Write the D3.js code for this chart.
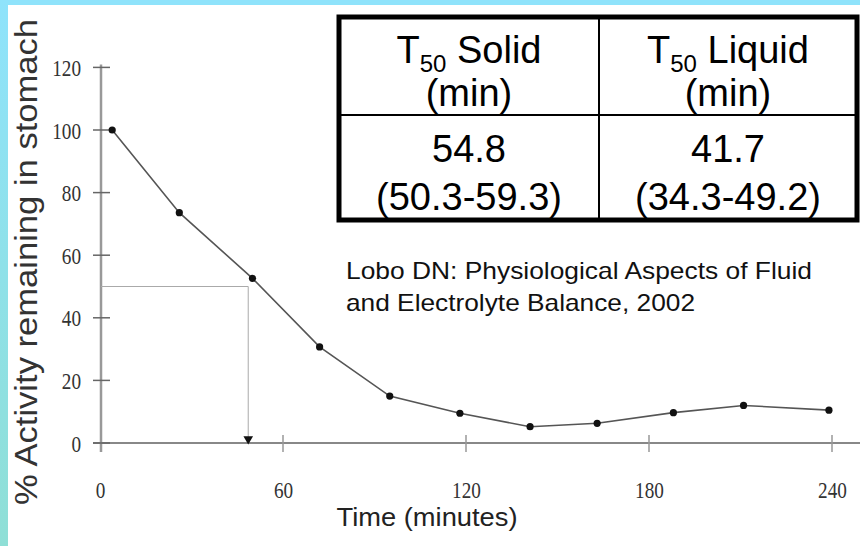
<!DOCTYPE html>
<html>
<head>
<meta charset="utf-8">
<script src="https://cdn.jsdelivr.net/npm/d3@7"></script>
<style>
  html, body { margin: 0; padding: 0; background: #fff; }
  svg { display: block; }
</style>
</head>
<body>
<script>
// gastric emptying - % activity remaining vs time
var times = [4, 26, 50, 72, 95, 118, 141, 163, 188, 211, 239];
var activity = [100, 73.6, 52.6, 30.7, 15, 9.5, 5.2, 6.3, 9.7, 12, 10.5];
var xTicks = [0, 60, 120, 180, 240];
var yTicks = [0, 20, 40, 60, 80, 100, 120];
var t50 = 48.6;

var tableHead = ["Solid", "Liquid"];
var tableT50 = ["54.8", "41.7"];
var tableRange = ["(50.3-59.3)", "(34.3-49.2)"];

var svgWidth = 860;
var svgHeight = 546;

var svg = d3.select("body")
  .append("svg")
  .attr("width", svgWidth)
  .attr("height", svgHeight);

// blue frame on top / left
var defs = svg.append("defs");
var grad = defs.append("linearGradient")
  .attr("id", "frame")
  .attr("x1", 0).attr("y1", 0).attr("x2", 0).attr("y2", 1);
grad.append("stop").attr("offset", "0%").attr("stop-color", "#8fe3fb");
grad.append("stop").attr("offset", "100%").attr("stop-color", "#8fdfd6");

svg.append("rect").attr("x", 0).attr("y", 0).attr("width", svgWidth).attr("height", 5).attr("fill", "#8fe3fb");
svg.append("rect").attr("x", 0).attr("y", 0).attr("width", 8).attr("height", svgHeight).attr("fill", "url(#frame)");

var xScale = d3.scaleLinear().domain([0, 240]).range([100, 832]);
var yScale = d3.scaleLinear().domain([0, 120]).range([443, 67.4]);

// axes (labels only, lines drawn below)
var xAxis = d3.axisBottom(xScale).tickValues(xTicks).tickSize(0).tickFormat(d3.format("d"));
var yAxis = d3.axisLeft(yScale).tickValues(yTicks).tickSize(0);

var gx = svg.append("g").attr("transform", "translate(0,443)").call(xAxis);
gx.select(".domain").remove();
gx.selectAll(".tick text")
  .attr("y", 0)
  .attr("dy", 0)
  .attr("font-family", "Liberation Serif, Times New Roman, serif")
  .attr("font-size", 24)
  .attr("fill", "#333")
  .attr("transform", "translate(0,55) scale(0.8,1)");

var gy = svg.append("g").attr("transform", "translate(100,0)").call(yAxis);
gy.select(".domain").remove();
gy.selectAll(".tick text")
  .attr("x", 0)
  .attr("dy", "0.34em")
  .attr("font-family", "Liberation Serif, Times New Roman, serif")
  .attr("font-size", 24)
  .attr("fill", "#333")
  .attr("transform", "translate(-19,0) scale(0.8,1)");

// axis lines and crossing ticks
svg.append("line")
  .attr("x1", 101).attr("x2", 101)
  .attr("y1", yScale(120) - 3).attr("y2", 452)
  .attr("stroke", "#999").attr("stroke-width", 2.5);
svg.append("line")
  .attr("x1", 93).attr("x2", svgWidth)
  .attr("y1", yScale(0)).attr("y2", yScale(0))
  .attr("stroke", "#888").attr("stroke-width", 2);

svg.selectAll(".ytk")
  .data(yTicks)
  .enter()
  .append("line")
  .attr("class", "ytk")
  .attr("x1", 93).attr("x2", 110)
  .attr("y1", d => yScale(d)).attr("y2", d => yScale(d))
  .attr("stroke", "#666").attr("stroke-width", 1.5);

svg.selectAll(".xtk")
  .data(xTicks.slice(1))
  .enter()
  .append("line")
  .attr("class", "xtk")
  .attr("x1", d => xScale(d)).attr("x2", d => xScale(d))
  .attr("y1", 435).attr("y2", 452)
  .attr("stroke", "#999").attr("stroke-width", 1.5);

// T50 guide lines
svg.append("line")
  .attr("x1", 101).attr("x2", xScale(t50))
  .attr("y1", yScale(50)).attr("y2", yScale(50))
  .attr("stroke", "#aaa").attr("stroke-width", 1);
svg.append("line")
  .attr("x1", xScale(t50)).attr("x2", xScale(t50))
  .attr("y1", yScale(50)).attr("y2", yScale(0) - 6)
  .attr("stroke", "#aaa").attr("stroke-width", 1);
svg.append("path")
  .attr("d", d3.symbol().type(d3.symbolTriangle).size(40))
  .attr("transform", "translate(" + xScale(t50) + "," + (yScale(0) - 4) + ") rotate(180)")
  .attr("fill", "#111");

// data line + points
var line = d3.line()
  .x((d, i) => xScale(times[i]))
  .y(d => yScale(d));

svg.append("path")
  .datum(activity)
  .attr("d", line)
  .attr("fill", "none")
  .attr("stroke", "#555")
  .attr("stroke-width", 1.6);

svg.selectAll(".pt")
  .data(activity)
  .enter()
  .append("circle")
  .attr("class", "pt")
  .attr("cx", (d, i) => xScale(times[i]))
  .attr("cy", d => yScale(d))
  .attr("r", 3.6)
  .attr("fill", "#111");

// axis titles
svg.append("text")
  .attr("transform", "translate(37,262) rotate(-90)")
  .attr("text-anchor", "middle")
  .attr("font-family", "Liberation Sans, Arial, sans-serif")
  .attr("font-size", 32)
  .attr("fill", "#333")
  .attr("textLength", 486)
  .attr("lengthAdjust", "spacingAndGlyphs")
  .text("% Activity remaining in stomach");

svg.append("text")
  .attr("x", 427)
  .attr("y", 526)
  .attr("text-anchor", "middle")
  .attr("font-family", "Liberation Sans, Arial, sans-serif")
  .attr("font-size", 26)
  .attr("fill", "#222")
  .attr("textLength", 181)
  .attr("lengthAdjust", "spacingAndGlyphs")
  .text("Time (minutes)");

// T50 table
var tbl = svg.append("g");
var tx0 = 339, tx1 = 857, txm = 599, ty0 = 17, ty1 = 220, tym = 115;
tbl.append("rect")
  .attr("x", tx0).attr("y", ty0)
  .attr("width", tx1 - tx0).attr("height", ty1 - ty0)
  .attr("fill", "#fff").attr("stroke", "#000").attr("stroke-width", 5);
tbl.append("line").attr("x1", txm).attr("x2", txm).attr("y1", ty0).attr("y2", ty1)
  .attr("stroke", "#000").attr("stroke-width", 2);
tbl.append("line").attr("x1", tx0).attr("x2", tx1).attr("y1", tym).attr("y2", tym)
  .attr("stroke", "#000").attr("stroke-width", 2);

var cols = [(tx0 + txm) / 2, (txm + tx1) / 2];
var tf = "Liberation Sans, Arial, sans-serif";

function cell(x, y) {
  return tbl.append("text")
    .attr("x", x).attr("y", y)
    .attr("text-anchor", "middle")
    .attr("font-family", tf).attr("font-size", 38).attr("fill", "#000");
}

tableHead.forEach(function(h, i) {
  var t = cell(cols[i], 63);
  t.append("tspan").text("T");
  t.append("tspan").attr("font-size", 24).attr("dy", 9).text("50");
  t.append("tspan").attr("dy", -9).text(" " + h);

  cell(cols[i], 106).text("(min)");
  cell(cols[i], 162).text(tableT50[i]);
  cell(cols[i], 210).text(tableRange[i]);
});

// source note
var note = svg.append("g").attr("font-family", "Liberation Sans, Arial, sans-serif")
  .attr("font-size", 24)
  .attr("fill", "#111");
note.append("text").attr("x", 346).attr("y", 279)
  .attr("textLength", 466).attr("lengthAdjust", "spacingAndGlyphs")
  .text("Lobo DN: Physiological Aspects of Fluid");
note.append("text").attr("x", 346).attr("y", 311)
  .attr("textLength", 349).attr("lengthAdjust", "spacingAndGlyphs")
  .text("and Electrolyte Balance, 2002");
</script>
</body>
</html>
